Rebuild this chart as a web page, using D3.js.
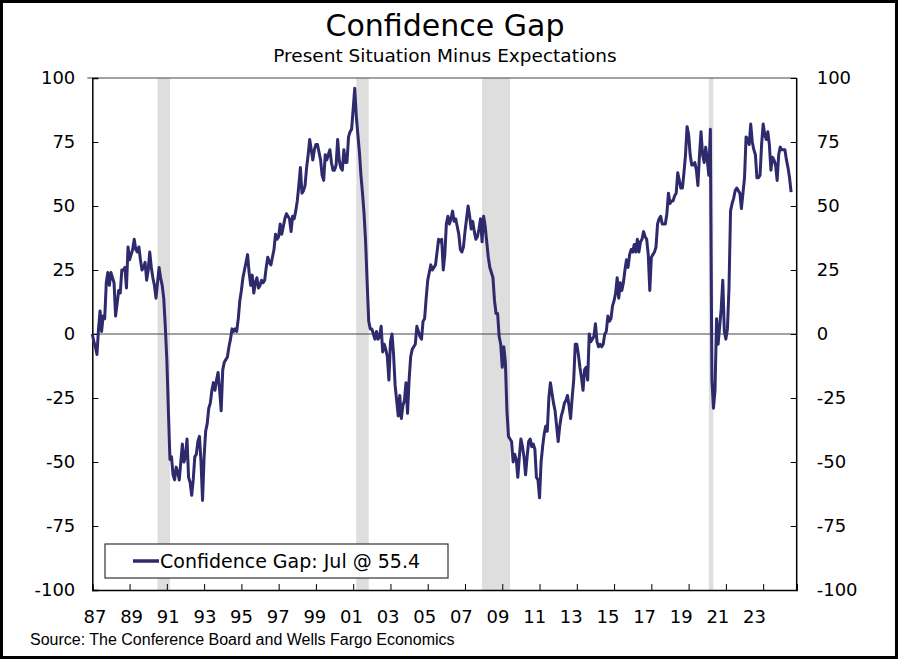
<!DOCTYPE html>
<html>
<head>
<meta charset="utf-8">
<script src="https://cdn.jsdelivr.net/npm/d3@7"></script>
<style>
  html, body { margin: 0; padding: 0; background: #fff; }
  svg { display: block; }
</style>
</head>
<body>
<svg id="chart" width="898" height="659"></svg>
<script>
// ---------------- DATA ----------------
const title = "Confidence Gap";
const subtitle = "Present Situation Minus Expectations";
const sourceText = "Source: The Conference Board and Wells Fargo Economics";
const legendLabel = "Confidence Gap: Jul @ 55.4";

const startYear = 1987;          // first month: Jan 1987
const lastMonthIndex = 450;      // Jul 2024

// Monthly Confidence Gap, Jan 1987 .. Jul 2024 (one row per year)
const gap = [
  /*1987*/  0, -3, -5, -8,  2,  9,  1,  7,  6, 20, 24, 19,
  /*1988*/ 24, 22, 20,  7, 12, 17, 16, 25, 25, 26, 18, 34,
  /*1989*/ 29, 31, 33, 37, 33, 32, 34, 29, 25, 26, 28, 21,
  /*1990*/ 25, 32, 26, 22, 19, 14, 20, 26, 22, 19, 14,  3,
  /*1991*/-10,-30,-49,-48,-55,-57,-52,-54,-57,-50,-43,-50,
  /*1992*/-48,-41,-56,-58,-63,-57,-48,-47,-42,-40,-50,-65,
  /*1993*/-48,-38,-35,-29,-27,-22,-19,-22,-18,-15,-22,-30,
  /*1994*/-14,-11,-10, -9, -5, -2,  2,  1,  2,  1,  6, 13,
  /*1995*/ 17, 22, 25, 28, 31, 24, 19, 23, 16, 20, 22, 18,
  /*1996*/ 19, 21, 20, 21, 26, 30, 28, 27, 30, 33, 39, 37,
  /*1997*/ 38, 43, 39, 42, 45, 47, 46, 45, 40, 46, 45, 48,
  /*1998*/ 52, 58, 65, 55, 56, 58, 65, 70, 76, 72, 68, 72,
  /*1999*/ 74, 74, 71, 68, 62, 60, 70, 68, 70, 72, 67, 64,
  /*2000*/ 64, 66, 76, 68, 65, 64, 72, 67, 67, 77, 79, 80,
  /*2001*/ 88, 96, 85, 78, 71, 62, 55, 47, 36, 20,  5,  2,
  /*2002*/  2,  0, -2,  1, -2, -1,  3, -7, -4, -6, -9,-18,
  /*2003*/ -3,  0, -8,-20,-26,-32,-24,-33,-28,-26,-19,-31,
  /*2004*/-18, -9, -6, -5, -4,  3,  1, -1, -2,  5,  6, 14,
  /*2005*/ 21, 24, 27, 25, 26, 27, 32, 37, 36, 37, 25, 31,
  /*2006*/ 43, 46, 43, 45, 48, 44, 45, 42, 39, 33, 32, 34,
  /*2007*/ 40, 45, 50, 46, 41, 44, 40, 37, 38, 41, 45, 36,
  /*2008*/ 46, 42, 36, 30, 26, 24, 22, 13,  8,  8, -1, -4,
  /*2009*/-13, -5,-11,-30,-40,-41,-42,-50,-47,-49,-56,-48,
  /*2010*/-41,-44,-48,-55,-48,-42,-41,-44,-43,-45,-56,-57,
  /*2011*/-64,-50,-44,-39,-36,-38,-25,-19,-23,-27,-30,-36,
  /*2012*/-42,-36,-32,-30,-27,-26,-24,-28,-33,-25,-18, -4,
  /*2013*/ -4, -8,-13,-17,-22,-14,-13,-18,  0, -3, -2, -1,
  /*2014*/  4, -3, -5, -4, -5, -4,  0,  1,  7,  5,  6, 11,
  /*2015*/ 13, 16, 22, 14, 20, 17, 20, 25, 29, 26, 31, 33,
  /*2016*/ 32, 35, 32, 37, 32, 36, 37, 40, 38, 37, 31, 17,
  /*2017*/ 30, 31, 32, 34, 43, 45, 46, 43, 43, 43, 47, 55,
  /*2018*/ 51, 52, 52, 54, 55, 63, 60, 57, 57, 63, 70, 81,
  /*2019*/ 78, 70, 66, 66, 67, 64, 58, 70, 79, 70, 67, 73,
  /*2020*/ 68, 62, 80,-18,-29,-22,  6, -4,  3, 10, 21,  1,
  /*2021*/ -2,  2, 18, 48, 51, 53, 56, 57, 56, 55, 49, 55,
  /*2022*/ 61, 77, 76, 74, 82, 75, 72, 70, 61, 61, 62, 74,
  /*2023*/ 82, 78, 76, 79, 74, 64, 69, 68, 66, 60, 70, 73,
  /*2024*/ 72, 72, 72, 68, 65, 61, 55.4
];

// Recessions as [start month index, end month index] (months since Jan 1987)
const recessionStarts = [42, 170, 251, 397];   // Jul-90, Mar-01, Dec-07, Feb-20
const recessionEnds   = [50, 178, 269, 399];   // Mar-91, Nov-01, Jun-09, Apr-20

const yTicks = [-100, -75, -50, -25, 0, 25, 50, 75, 100];
const xTickLabels = ["87","89","91","93","95","97","99","01","03","05","07","09","11","13","15","17","19","21","23"];

// ---------------- LAYOUT ----------------
const W = 898, H = 659;
const plot = { left: 92.3, right: 796.7, top: 78, bottom: 590 };
const lineColor = "#2e2a6c";
const font = "'DejaVu Sans', Verdana, sans-serif";
const fmt = d => String(d);   // plain hyphen minus, like the original

const svg = d3.select("#chart");

const x = d3.scaleLinear().domain([0, 453.6]).range([plot.left, plot.right]);
const y = d3.scaleLinear().domain([-100, 100]).range([plot.bottom, plot.top]);

// outer frame
svg.append("rect").attr("x", 1.5).attr("y", 1.5).attr("width", W - 3).attr("height", H - 3)
  .attr("fill", "#fff").attr("stroke", "#000").attr("stroke-width", 3);

// title & subtitle
svg.append("text").attr("x", 445).attr("y", 36).attr("text-anchor", "middle")
  .style("font-family", font).style("font-size", "30px").attr("fill", "#000").text(title);
svg.append("text").attr("x", 445).attr("y", 62).attr("text-anchor", "middle")
  .style("font-family", font).style("font-size", "18.5px").attr("fill", "#000").text(subtitle);

// recession bands
const recs = recessionStarts.map((s, i) => ({ s, e: recessionEnds[i] }));
svg.append("g").selectAll("rect").data(recs).join("rect")
  .attr("x", d => x(d.s))
  .attr("width", d => Math.max(4.5, x(d.e) - x(d.s)))
  .attr("y", plot.top).attr("height", plot.bottom - plot.top)
  .attr("fill", "#dedede");

// plot frame: top and right
svg.append("line").attr("x1", plot.left - 5).attr("x2", plot.right).attr("y1", plot.top).attr("y2", plot.top)
  .attr("stroke", "#444").attr("stroke-width", 1.2);
svg.append("line").attr("x1", plot.right).attr("x2", plot.right).attr("y1", plot.top).attr("y2", plot.bottom)
  .attr("stroke", "#000").attr("stroke-width", 1.5);

// zero line
svg.append("line").attr("x1", plot.left).attr("x2", plot.right).attr("y1", y(0)).attr("y2", y(0))
  .attr("stroke", "#444").attr("stroke-width", 1);

// left axis
const yLeft = d3.axisLeft(y).tickValues(yTicks).tickSize(-6).tickPadding(17).tickFormat(fmt);
const gL = svg.append("g").attr("transform", `translate(${plot.left},0)`).call(yLeft);
gL.select(".domain").attr("stroke", "#000").attr("stroke-width", 1.5);
gL.selectAll(".tick line").attr("stroke", "#000");
gL.selectAll(".tick text").style("font-family", font).style("font-size", "18px").attr("fill", "#000");

// right axis
const yRight = d3.axisRight(y).tickValues(yTicks).tickSize(-6).tickPadding(20).tickFormat(fmt);
const gR = svg.append("g").attr("transform", `translate(${plot.right},0)`).call(yRight);
gR.select(".domain").remove();
gR.selectAll(".tick line").attr("stroke", "#000");
gR.selectAll(".tick text").style("font-family", font).style("font-size", "18px").attr("fill", "#000");

// bottom axis: ticks every 24 months
const xTickVals = d3.range(0, 454, 24);
const xAxis = d3.axisBottom(x).tickValues(xTickVals).tickSize(-6).tickFormat("");
const gB = svg.append("g").attr("transform", `translate(0,${plot.bottom})`).call(xAxis);
gB.select(".domain").attr("stroke", "#000").attr("stroke-width", 1.5);
gB.selectAll(".tick line").attr("stroke", "#000");

// x labels
const xLab = d3.scalePoint().domain(xTickLabels).range([95, 754.5]);
svg.append("g").selectAll("text").data(xTickLabels).join("text")
  .attr("x", d => xLab(d)).attr("y", 623).attr("text-anchor", "middle")
  .style("font-family", font).style("font-size", "18px").attr("fill", "#000")
  .text(d => d);

// data line
const line = d3.line().x((d, i) => x(i)).y(d => y(d));
svg.append("path").datum(gap).attr("d", line)
  .attr("fill", "none").attr("stroke", lineColor).attr("stroke-width", 3)
  .attr("stroke-linejoin", "round");

// legend
const lg = svg.append("g");
lg.append("rect").attr("x", 105).attr("y", 544).attr("width", 343).attr("height", 34)
  .attr("fill", "#fff").attr("stroke", "#333").attr("stroke-width", 1.2);
lg.append("line").attr("x1", 133).attr("x2", 159).attr("y1", 561).attr("y2", 561)
  .attr("stroke", lineColor).attr("stroke-width", 3.5);
lg.append("text").attr("x", 160).attr("y", 561).attr("dy", "0.35em")
  .style("font-family", font).style("font-size", "19px").attr("fill", "#000").text(legendLabel);

// source
svg.append("text").attr("x", 30).attr("y", 645)
  .style("font-family", "'Liberation Sans', Arial, sans-serif").style("font-size", "16px").attr("fill", "#000")
  .text(sourceText);
</script>
</body>
</html>
